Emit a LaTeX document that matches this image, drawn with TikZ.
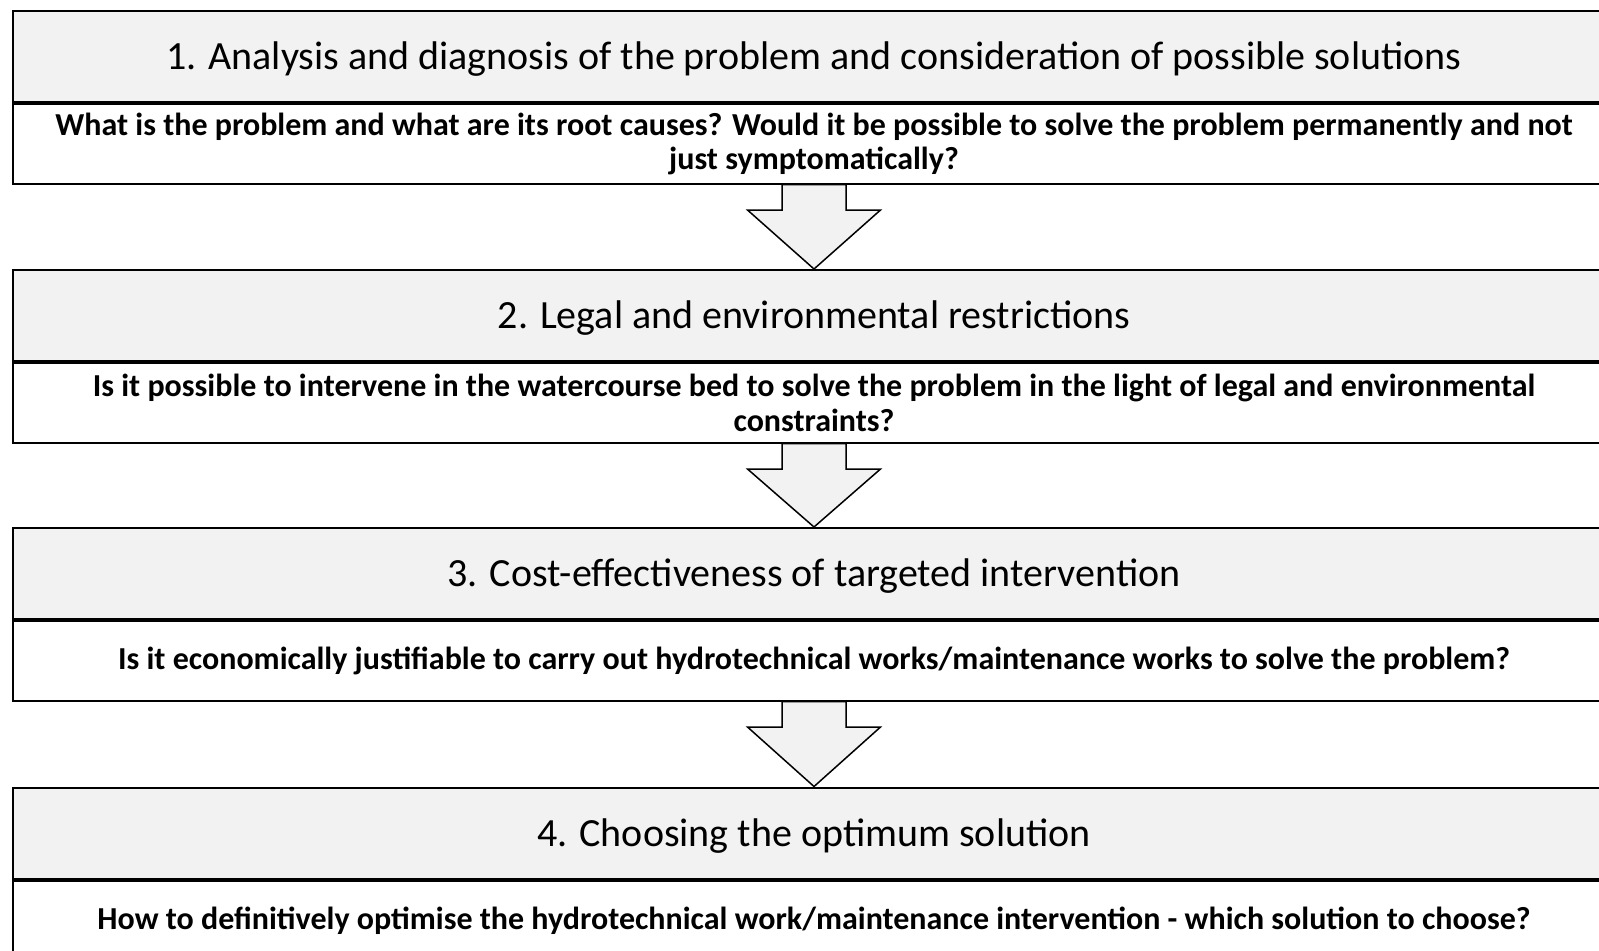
\documentclass[tikz,border=0pt]{standalone}
\usepackage{fontspec}
\setmainfont{Carlito}
\usepackage{tikz}
\usetikzlibrary{positioning,calc}

\definecolor{stagegray}{HTML}{F2F2F2}

\tikzset{
    stage/.style={draw=black, line width=1pt, fill=stagegray, inner sep=0pt,
        minimum width=801pt, minimum height=45.5pt, text height=14pt, text depth=1pt,
        font=\fontsize{20}{24}\selectfont},
    question/.style={draw=black, line width=1pt, fill=white, inner sep=0pt, align=center,
        minimum width=801pt, minimum height=39.75pt, font=\fontsize{16}{17.25}\selectfont\bfseries}
}

% block arrow from the bottom of one box to the top of the next
\newcommand{\flowarrow}[2]{%
    \draw[line width=0.75pt, fill=stagegray]
    ($(#1.south)+(-32,0)$) -- ++(0,25.5) -- ++(-34.5,0) -- (#2.north) --
    ($(#1.south)+(66.5,25.5)$) -- ++(-34.5,0) -- ++(0,-25.5) -- cycle;}

\begin{document}
\begin{tikzpicture}[x=0.5pt, y=-0.5pt]
    \useasboundingbox (0,0) rectangle (1599,950);
    \node[stage] (stage1) at (814,56.5) {1. Analysis and diagnosis of the problem and consideration of possible solutions};
    \node[question, below=0pt of stage1] (ask1) {What is the problem and what are its root causes? Would it be possible to solve the problem permanently and not\\ just symptomatically?};
    \node[stage] (stage2) at (814,315.5) {2. Legal and environmental restrictions};
    \node[question, below=0pt of stage2] (ask2) {Is it possible to intervene in the watercourse bed to solve the problem in the light of legal and environmental\\ constraints?};
    \node[stage] (stage3) at (814,573.5) {3. Cost-effectiveness of targeted intervention};
    \node[question, below=0pt of stage3] (ask3) {Is it economically justifiable to carry out hydrotechnical works/maintenance works to solve the problem?};
    \node[stage] (stage4) at (814,833) {4. Choosing the optimum solution};
    \node[question, below=0pt of stage4] (ask4) {How to definitively optimise the hydrotechnical work/maintenance intervention - which solution to choose?};
    \flowarrow{ask1}{stage2}
    \flowarrow{ask2}{stage3}
    \flowarrow{ask3}{stage4}
\end{tikzpicture}
\end{document}
